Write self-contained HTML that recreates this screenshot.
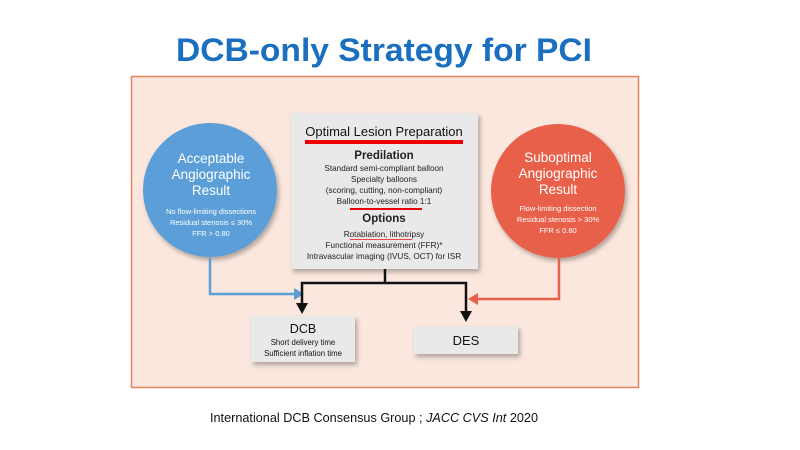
<!DOCTYPE html>
<html><head><meta charset="utf-8"><style>
html,body{margin:0;padding:0;background:#fff;}
svg{display:block;}
text{font-family:"Liberation Sans","DejaVu Sans",sans-serif;}
</style></head><body>
<svg width="800" height="450" viewBox="0 0 800 450" xmlns="http://www.w3.org/2000/svg">
<defs>
<filter id="sh" x="-20%" y="-20%" width="150%" height="150%"><feDropShadow dx="2" dy="3" stdDeviation="2.5" flood-color="#000" flood-opacity="0.3"/></filter>
</defs>
<text x="384" y="61" font-size="32" font-weight="bold" fill="#1a6fbf" text-anchor="middle" textLength="416" lengthAdjust="spacingAndGlyphs">DCB-only Strategy for PCI</text>
<rect x="131.5" y="76.5" width="507" height="311" fill="#fbe7dd" stroke="#e8825c" stroke-width="1.5"/>
<rect x="291" y="113" width="187" height="156" fill="#e9e9ea" filter="url(#sh)"/>
<text x="384" y="136" font-size="13" fill="#111" text-anchor="middle">Optimal Lesion Preparation</text>
<rect x="305" y="140" width="158" height="4" fill="#e00"/>
<text x="384" y="159" font-size="11.5" font-weight="bold" fill="#222" text-anchor="middle">Predilation</text>
<g font-size="8.2" fill="#222" text-anchor="middle">
<text x="384" y="171">Standard semi-compliant balloon</text>
<text x="384" y="182">Specialty balloons</text>
<text x="384" y="193">(scoring, cutting, non-compliant)</text>
<text x="384" y="204">Balloon-to-vessel ratio 1:1</text>
<text x="384" y="237">Rotablation, lithotripsy</text>
<text x="384" y="248">Functional measurement (FFR)*</text>
<text x="384" y="259">Intravascular imaging (IVUS, OCT) for ISR</text>
</g>
<rect x="350" y="208" width="72" height="2" fill="#e00"/>
<rect x="350" y="239" width="62" height="1" fill="#e44"/>
<text x="384" y="222" font-size="11.5" font-weight="bold" fill="#222" text-anchor="middle">Options</text>
<circle cx="210" cy="190" r="67" fill="#5b9fd8" filter="url(#sh)"/>
<g fill="#fff" text-anchor="middle">
<text x="211" y="163" font-size="13.5" font-weight="500">Acceptable</text>
<text x="211" y="179" font-size="13.5">Angiographic</text>
<text x="211" y="195" font-size="13.5">Result</text>
<text x="211" y="214" font-size="7.5">No flow-limiting dissections</text>
<text x="211" y="225" font-size="7.5">Residual stenosis ≤ 30%</text>
<text x="211" y="236" font-size="7.5">FFR &gt; 0.80</text>
</g>
<circle cx="558" cy="191" r="67" fill="#e8604a" filter="url(#sh)"/>
<g fill="#fff" text-anchor="middle">
<text x="558" y="162" font-size="13.5">Suboptimal</text>
<text x="558" y="178" font-size="13.5">Angiographic</text>
<text x="558" y="194" font-size="13.5">Result</text>
<text x="558" y="211" font-size="7.5">Flow-limiting dissection</text>
<text x="558" y="222" font-size="7.5">Residual stenosis &gt; 30%</text>
<text x="558" y="233" font-size="7.5">FFR ≤ 0.80</text>
</g>
<polyline points="210,258 210,294 296,294" fill="none" stroke="#5b9fd8" stroke-width="2.5"/>
<polygon points="294,288 304,294 294,300" fill="#5b9fd8"/>
<polyline points="559,258 559,299 476,299" fill="none" stroke="#e8604a" stroke-width="2.5"/>
<polygon points="478,293 468,299 478,305" fill="#e8604a"/>
<polyline points="385,269 385,283" fill="none" stroke="#111" stroke-width="2.5"/>
<polyline points="302,305 302,283 466,283 466,313" fill="none" stroke="#111" stroke-width="2.5"/>
<polygon points="296,303 308,303 302,314" fill="#111"/>
<polygon points="460,311 472,311 466,322" fill="#111"/>
<rect x="251" y="316" width="104" height="46" fill="#e9e9ea" filter="url(#sh)"/>
<text x="303" y="333" font-size="12.5" fill="#111" text-anchor="middle">DCB</text>
<text x="303" y="345" font-size="7.8" fill="#111" text-anchor="middle">Short delivery time</text>
<text x="303" y="356" font-size="7.8" fill="#111" text-anchor="middle">Sufficient inflation time</text>
<rect x="414" y="326" width="104" height="28" fill="#e9e9ea" filter="url(#sh)"/>
<text x="466" y="345" font-size="13" fill="#111" text-anchor="middle">DES</text>
<text x="210" y="422" font-size="13" fill="#111" textLength="328" lengthAdjust="spacingAndGlyphs">International DCB Consensus Group ; <tspan font-style="italic">JACC CVS Int</tspan>  2020</text>
</svg>
</body></html>
